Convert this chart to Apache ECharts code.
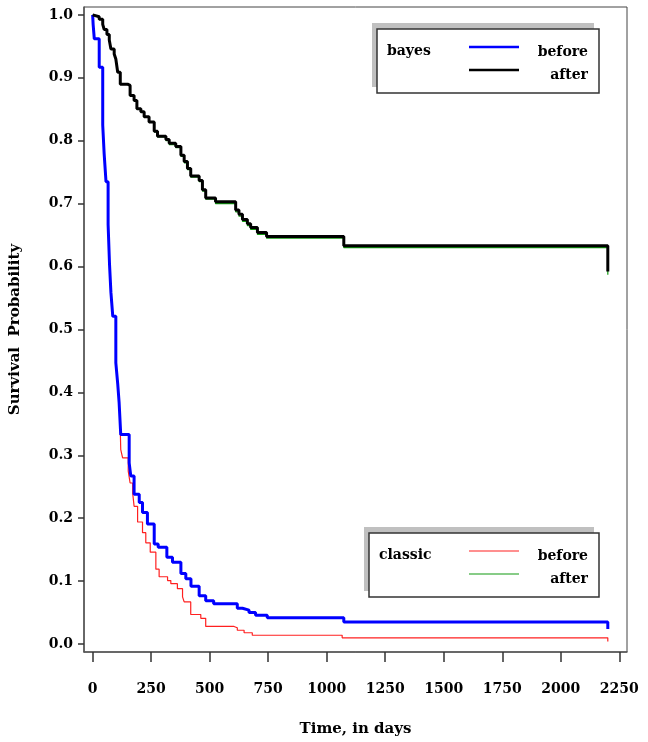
<!DOCTYPE html>
<html>
<head>
<meta charset="utf-8">
<script src="https://cdn.jsdelivr.net/npm/echarts@6/dist/echarts.min.js"></script>
<style>
  html, body { margin: 0; padding: 0; background: #fff; }
  #chart { width: 648px; height: 742px; }
</style>
</head>
<body>
<div id="chart"></div>
<script>
// tick labels
var xTicks = [0, 250, 500, 750, 1000, 1250, 1500, 1750, 2000, 2250];
var yTicks = [0, 0.1, 0.2, 0.3, 0.4, 0.5, 0.6, 0.7, 0.8, 0.9, 1.0];

// bayes - before (blue)
var bayesBeforeDays = [0, 2, 7, 28, 43, 49, 57, 66, 72, 78, 86, 99, 107, 113, 120, 156, 163, 177, 199, 213, 234, 263, 280, 317, 341, 377, 398, 420, 455, 483, 517, 618, 640, 668, 696, 746, 1073, 2201];
var bayesBeforeSurv = [1.0, 0.985, 0.962, 0.917, 0.825, 0.780, 0.735, 0.667, 0.604, 0.559, 0.521, 0.447, 0.414, 0.384, 0.333, 0.288, 0.267, 0.238, 0.225, 0.209, 0.191, 0.159, 0.154, 0.138, 0.130, 0.112, 0.104, 0.092, 0.077, 0.069, 0.064, 0.057, 0.054, 0.050, 0.046, 0.042, 0.035, 0.024];

// bayes - after (black)
var bayesAfterDays = [0, 7, 28, 43, 49, 61, 71, 78, 92, 99, 107, 118, 149, 160, 177, 189, 206, 220, 241, 263, 277, 313, 327, 355, 377, 391, 405, 419, 455, 469, 483, 525, 611, 625, 640, 661, 675, 704, 743, 1073, 2201];
var bayesAfterSurv = [1.0, 0.997, 0.993, 0.985, 0.977, 0.969, 0.960, 0.946, 0.938, 0.930, 0.909, 0.890, 0.888, 0.872, 0.864, 0.851, 0.846, 0.838, 0.830, 0.815, 0.807, 0.802, 0.796, 0.791, 0.777, 0.767, 0.756, 0.744, 0.737, 0.722, 0.709, 0.703, 0.690, 0.683, 0.675, 0.668, 0.662, 0.654, 0.648, 0.633, 0.592];

// classic - before (red)
var classicBeforeDays = [0, 2, 7, 28, 43, 49, 57, 66, 72, 78, 86, 99, 107, 113, 118, 120, 128, 152, 160, 171, 177, 192, 213, 227, 246, 270, 284, 320, 334, 362, 384, 391, 419, 462, 483, 604, 618, 647, 682, 1066, 2201];
var classicBeforeSurv = [1.0, 0.985, 0.962, 0.917, 0.825, 0.780, 0.735, 0.667, 0.604, 0.552, 0.521, 0.447, 0.414, 0.384, 0.340, 0.309, 0.296, 0.275, 0.256, 0.240, 0.219, 0.194, 0.177, 0.161, 0.146, 0.119, 0.107, 0.101, 0.096, 0.088, 0.075, 0.067, 0.047, 0.041, 0.028, 0.026, 0.022, 0.018, 0.014, 0.010, 0.004];

// classic - after (green)
var classicAfterDays = [0, 7, 28, 43, 49, 61, 71, 78, 92, 99, 107, 118, 149, 160, 177, 189, 206, 220, 241, 263, 277, 313, 327, 355, 377, 391, 405, 419, 455, 469, 483, 525, 611, 625, 640, 661, 675, 704, 743, 1073, 2201];
var classicAfterSurv = [1.0, 0.997, 0.993, 0.985, 0.977, 0.969, 0.960, 0.946, 0.938, 0.930, 0.909, 0.890, 0.887, 0.871, 0.863, 0.850, 0.845, 0.837, 0.829, 0.814, 0.806, 0.800, 0.794, 0.789, 0.775, 0.765, 0.754, 0.742, 0.735, 0.720, 0.707, 0.700, 0.687, 0.680, 0.672, 0.665, 0.659, 0.651, 0.645, 0.630, 0.587];

function pairs(days, surv) {
  return days.map(function (d, i) { return [d, surv[i]]; });
}

var serif = 'DejaVu Serif';
var labelFont = { fontFamily: serif, fontSize: 14, fontWeight: 'bold', color: '#000' };

function stepLine(name, days, surv, color, width, z) {
  return {
    name: name,
    type: 'line',
    step: 'end',
    showSymbol: false,
    z: z,
    data: pairs(days, surv),
    lineStyle: { color: color, width: width },
    itemStyle: { color: color }
  };
}

function legendBox(x, y, w, h, title, c1, c2, lw) {
  return [
    { type: 'rect', shape: { x: x - 5, y: y - 6, width: w, height: h }, style: { fill: '#c0c0c0' } },
    { type: 'rect', shape: { x: x, y: y, width: w, height: h }, style: { fill: '#fff', stroke: '#333', lineWidth: 1.5 } },
    { type: 'text', x: x + 10, y: y + 22, style: { text: title, font: 'bold 14px ' + serif, fill: '#000', verticalAlign: 'middle' } },
    { type: 'line', shape: { x1: 469, y1: y + 18, x2: 519, y2: y + 18 }, style: { stroke: c1, lineWidth: lw } },
    { type: 'line', shape: { x1: 469, y1: y + 41, x2: 519, y2: y + 41 }, style: { stroke: c2, lineWidth: lw } },
    { type: 'text', x: 588, y: y + 23, style: { text: 'before', font: 'bold 14px ' + serif, fill: '#000', align: 'right', verticalAlign: 'middle' } },
    { type: 'text', x: 588, y: y + 46, style: { text: 'after', font: 'bold 14px ' + serif, fill: '#000', align: 'right', verticalAlign: 'middle' } }
  ];
}

var myChart = echarts.init(document.getElementById('chart'));
myChart.setOption({
  animation: false,
  backgroundColor: '#fff',
  grid: {
    left: 83, right: 21, top: 7, bottom: 85,
    show: true, borderColor: '#444', borderWidth: 1
  },
  xAxis: {
    type: 'value',
    min: -37,
    max: 2283,
    name: 'Time, in days',
    nameLocation: 'middle',
    nameGap: 70,
    nameTextStyle: { fontFamily: serif, fontSize: 15, fontWeight: 'bold', color: '#000' },
    axisLine: { show: true, onZero: false, lineStyle: { color: '#555', width: 1.5 } },
    axisTick: { show: true, customValues: xTicks, length: 10, lineStyle: { color: '#333', width: 1.5 } },
    axisLabel: Object.assign({ customValues: xTicks, margin: 30, formatter: function (v) { return String(v); } }, labelFont),
    splitLine: { show: false }
  },
  yAxis: {
    type: 'value',
    min: -0.0126,
    max: 1.0126,
    name: 'Survival  Probability',
    nameLocation: 'middle',
    nameGap: 61,
    nameTextStyle: { fontFamily: serif, fontSize: 15, fontWeight: 'bold', color: '#000' },
    axisLine: { show: true, onZero: false, lineStyle: { color: '#555', width: 1.5 } },
    axisTick: { show: true, customValues: yTicks, length: 6, lineStyle: { color: '#333', width: 1.5 } },
    axisLabel: Object.assign({ customValues: yTicks, margin: 11, formatter: function (v) { return v.toFixed(1); } }, labelFont),
    splitLine: { show: false }
  },
  series: [
    stepLine('classic before', classicBeforeDays, classicBeforeSurv, '#ff2020', 1.2, 2),
    stepLine('classic after', classicAfterDays, classicAfterSurv, '#109a10', 1.2, 2),
    stepLine('bayes before', bayesBeforeDays, bayesBeforeSurv, '#0000ff', 3, 3),
    stepLine('bayes after', bayesAfterDays, bayesAfterSurv, '#000000', 3, 3)
  ],
  graphic: legendBox(377, 29, 222, 64, 'bayes', '#0000ff', '#000000', 2.5)
    .concat(legendBox(369, 533, 230, 64, 'classic', '#ff2020', '#109a10', 1.2))
});
</script>
</body>
</html>
